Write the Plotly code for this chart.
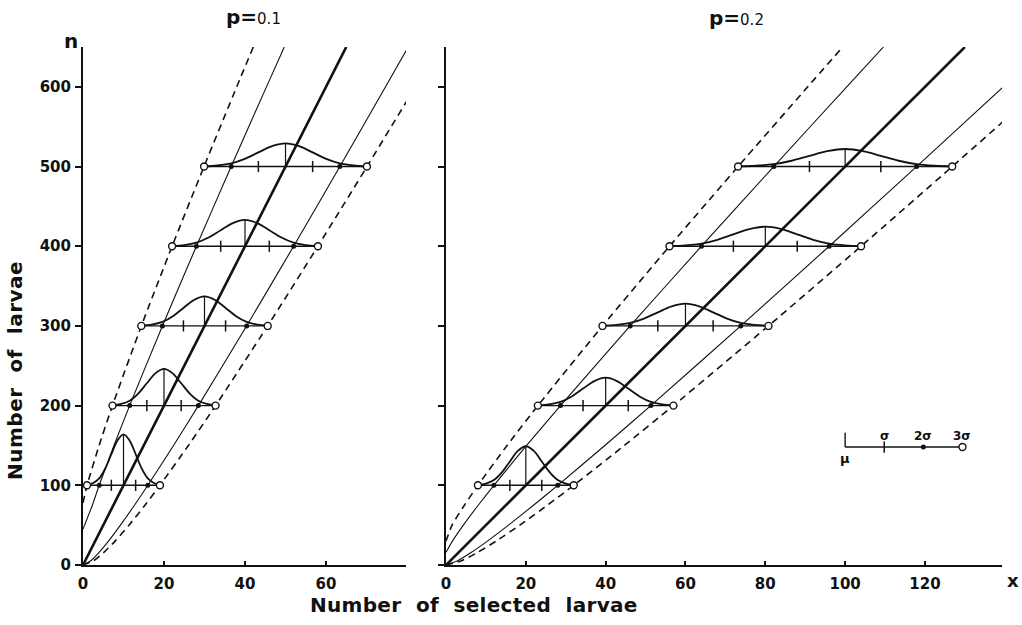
import plotly.graph_objects as go

# ---------------- data ----------------
# sample sizes at which the distributions are drawn
levels = [100, 200, 300, 400, 500]

# p = 0.1 : mean, standard deviation and drawn peak height (in n units)
p01_mean = [10, 20, 30, 40, 50]
p01_sigma = [3.0, 4.24, 5.2, 6.0, 6.7]
p01_peak = [64, 46, 37, 33, 29]

# p = 0.2
p02_mean = [20, 40, 60, 80, 100]
p02_sigma = [4.0, 5.66, 6.93, 8.0, 8.94]
p02_peak = [49, 35, 28, 24.5, 22]

# bell profile: offsets in sigma units and relative heights
bell_k = [-3, -2.5, -2, -1.5, -1, -0.5, 0, 0.5, 1, 1.5, 2, 2.5, 3]
bell_rel = [0.01, 0.045, 0.135, 0.33, 0.61, 0.88, 1.0, 0.88, 0.61, 0.33, 0.135, 0.045, 0.01]

# guide curves, p = 0.1 (n on the vertical axis, x on the horizontal)
p01_n = [0, 5, 15, 30, 50, 75, 100, 150, 200, 300, 400, 500, 600, 650]
p01_hi2 = [0, 1.84, 3.82, 6.29, 9.24, 12.70, 16.0, 22.35, 28.49, 40.39, 52.0, 63.42, 74.70, 80.30]
p01_hi3 = [0, 2.51, 4.99, 7.93, 11.36, 15.29, 19.0, 26.02, 32.73, 45.59, 58.0, 70.12, 82.05, 87.95]
p01_lo2_n = [45, 75, 100, 150, 200, 300, 400, 500, 600, 650]
p01_lo2 = [0, 2.3, 4.0, 7.65, 11.51, 19.61, 28.0, 36.58, 45.30, 49.70]
p01_lo3_n = [78, 100, 150, 200, 300, 400, 500, 600, 650]
p01_lo3 = [0, 1.0, 3.98, 7.27, 14.41, 22.0, 29.88, 37.95, 42.05]
p01_mid_n = [0, 650]
p01_mid = [0, 65]

# guide curves, p = 0.2
p02_n = [0, 5, 15, 30, 50, 75, 100, 150, 200, 300, 400, 500, 600, 650]
p02_hi2 = [0, 2.79, 6.10, 10.38, 15.66, 21.93, 28.0, 39.80, 51.31, 73.86, 96.0, 117.89, 139.60, 150.40]
p02_hi3 = [0, 3.68, 7.65, 12.57, 18.49, 25.39, 32.0, 44.70, 56.97, 80.78, 104.0, 126.83, 149.39, 160.60]
p02_lo2_n = [16, 30, 50, 75, 100, 150, 200, 300, 400, 500, 600, 650]
p02_lo2 = [0, 1.62, 4.34, 8.07, 12.0, 20.20, 28.69, 46.14, 64.0, 82.11, 100.40, 109.60]
p02_lo3_n = [30, 50, 75, 100, 150, 200, 300, 400, 500, 600, 650]
p02_lo3 = [0, 1.51, 4.61, 8.0, 15.30, 23.03, 39.22, 56.0, 73.17, 90.61, 99.40]
p02_mid_n = [0, 650]
p02_mid = [0, 130]

# axis ticks
y_ticks = [0, 100, 200, 300, 400, 500, 600]
x1_ticks = [0, 20, 40, 60]
x2_ticks = [0, 20, 40, 60, 80, 100, 120]

# key (in sigma steps) placed in the p = 0.2 panel
key_steps = [0, 1, 2, 3]
key_labels = ["μ", "σ", "2σ", "3σ"]
key_origin = (100.0, 148.0)
key_step = 9.8

# ---------------- figure ----------------
INK = "#111111"
FONT = "DejaVu Sans"
fig = go.Figure()


def add_line(xs, ys, ax, width, dash="solid"):
    xa, ya = ("x", "y") if ax == 1 else ("x2", "y2")
    fig.add_trace(go.Scatter(
        x=xs, y=ys, xaxis=xa, yaxis=ya, mode="lines",
        line=dict(color=INK, width=width, dash=dash, shape="spline", smoothing=0.6),
        hoverinfo="skip", showlegend=False))


def add_panel(ax, n, hi2, hi3, lo2_n, lo2, lo3_n, lo3, mid_n, mid, means, sigmas, peaks):
    xa, ya = ("x", "y") if ax == 1 else ("x2", "y2")
    add_line(hi3, n, ax, 1.6, "7px,5px")
    add_line(lo3, lo3_n, ax, 1.6, "7px,5px")
    add_line(hi2, n, ax, 1.1)
    add_line(lo2, lo2_n, ax, 1.1)
    add_line(mid, mid_n, ax, 2.6)
    for lv, m, s, h in zip(levels, means, sigmas, peaks):
        # baseline from -3 sigma to +3 sigma
        fig.add_trace(go.Scatter(
            x=[m - 3 * s, m + 3 * s], y=[lv, lv], xaxis=xa, yaxis=ya, mode="lines",
            line=dict(color=INK, width=1.4), hoverinfo="skip", showlegend=False))
        # bell curve
        fig.add_trace(go.Scatter(
            x=[m + k * s for k in bell_k], y=[lv + r * h for r in bell_rel],
            xaxis=xa, yaxis=ya, mode="lines",
            line=dict(color=INK, width=1.8, shape="spline", smoothing=1.0),
            hoverinfo="skip", showlegend=False))
        # mean ordinate
        fig.add_trace(go.Scatter(
            x=[m, m], y=[lv, lv + h], xaxis=xa, yaxis=ya, mode="lines",
            line=dict(color=INK, width=1.2), hoverinfo="skip", showlegend=False))
        # sigma ticks
        fig.add_trace(go.Scatter(
            x=[m - s, m + s], y=[lv, lv], xaxis=xa, yaxis=ya, mode="markers",
            marker=dict(symbol="line-ns", size=8, line=dict(color=INK, width=1.5)),
            hoverinfo="skip", showlegend=False))
        # 2 sigma dots
        fig.add_trace(go.Scatter(
            x=[m - 2 * s, m + 2 * s], y=[lv, lv], xaxis=xa, yaxis=ya, mode="markers",
            marker=dict(symbol="circle", size=5, color=INK),
            hoverinfo="skip", showlegend=False))
        # 3 sigma open circles
        fig.add_trace(go.Scatter(
            x=[m - 3 * s, m + 3 * s], y=[lv, lv], xaxis=xa, yaxis=ya, mode="markers",
            marker=dict(symbol="circle", size=7, color="white", line=dict(color=INK, width=1.4)),
            hoverinfo="skip", showlegend=False))


add_panel(1, p01_n, p01_hi2, p01_hi3, p01_lo2_n, p01_lo2, p01_lo3_n, p01_lo3,
          p01_mid_n, p01_mid, p01_mean, p01_sigma, p01_peak)
add_panel(2, p02_n, p02_hi2, p02_hi3, p02_lo2_n, p02_lo2, p02_lo3_n, p02_lo3,
          p02_mid_n, p02_mid, p02_mean, p02_sigma, p02_peak)

# key: mu, sigma, 2 sigma, 3 sigma
kx = [key_origin[0] + st * key_step for st in key_steps]
ky = key_origin[1]
fig.add_trace(go.Scatter(x=[kx[0], kx[-1]], y=[ky, ky], xaxis="x2", yaxis="y2", mode="lines",
                         line=dict(color=INK, width=1.4), hoverinfo="skip", showlegend=False))
fig.add_trace(go.Scatter(x=[kx[0], kx[0]], y=[ky, ky + 18], xaxis="x2", yaxis="y2", mode="lines",
                         line=dict(color=INK, width=1.4), hoverinfo="skip", showlegend=False))
fig.add_trace(go.Scatter(x=[kx[1]], y=[ky], xaxis="x2", yaxis="y2", mode="markers",
                         marker=dict(symbol="line-ns", size=8, line=dict(color=INK, width=1.5)),
                         hoverinfo="skip", showlegend=False))
fig.add_trace(go.Scatter(x=[kx[2]], y=[ky], xaxis="x2", yaxis="y2", mode="markers",
                         marker=dict(symbol="circle", size=5, color=INK),
                         hoverinfo="skip", showlegend=False))
fig.add_trace(go.Scatter(x=[kx[3]], y=[ky], xaxis="x2", yaxis="y2", mode="markers",
                         marker=dict(symbol="circle", size=7, color="white", line=dict(color=INK, width=1.4)),
                         hoverinfo="skip", showlegend=False))

annotations = []
for i, (x, lab) in enumerate(zip(kx, key_labels)):
    if i == 0:
        annotations.append(dict(x=x, y=ky, xref="x2", yref="y2", text="<b>" + lab + "</b>", showarrow=False,
                                yanchor="top", yshift=-2, font=dict(family=FONT, size=13, color=INK)))
    else:
        annotations.append(dict(x=x, y=ky, xref="x2", yref="y2", text="<b>" + lab + "</b>", showarrow=False,
                                yanchor="bottom", yshift=2, font=dict(family=FONT, size=12, color=INK)))

W, H = 1022, 625


def px(xp, yp):
    return xp / W, 1 - yp / H


for txt, (xp, yp), size in [
    ("<b>p=</b><span style='font-size:15px'>0.1</span>", (253, 17), 20),
    ("<b>p=</b><span style='font-size:15px'>0.2</span>", (736, 18), 20),
    ("<b>n</b>", (71, 41), 20),
    ("<b>x</b>", (1013, 580), 18),
    ("<b><span style='letter-spacing:0.3px'>Number  of  selected  larvae</span></b>", (474, 605), 20),
]:
    ax_, ay_ = px(xp, yp)
    annotations.append(dict(x=ax_, y=ay_, xref="paper", yref="paper", text=txt, showarrow=False,
                            xanchor="center", yanchor="middle", font=dict(family=FONT, size=size, color=INK)))

ax_, ay_ = px(15, 371)
annotations.append(dict(x=ax_, y=ay_, xref="paper", yref="paper",
                        text="<b><span style='letter-spacing:0.5px'>Number  of  larvae</span></b>",
                        textangle=-90, showarrow=False, xanchor="center", yanchor="middle",
                        font=dict(family=FONT, size=20, color=INK)))

y_dom = [(625 - 565) / 625, (625 - 47) / 625]
axis_common = dict(showline=True, linewidth=2, linecolor=INK, showgrid=False, zeroline=False,
                   automargin=False, tickcolor=INK, tickwidth=2,
                   tickfont=dict(family=FONT, size=15, color=INK, weight="bold"))

fig.update_layout(
    width=W, height=H, margin=dict(l=0, r=0, t=0, b=0, autoexpand=False),
    paper_bgcolor="white", plot_bgcolor="white", showlegend=False,
    xaxis=dict(domain=[83 / W, 406 / W], range=[0, 79.75], anchor="y", tickvals=x1_ticks,
               ticks="inside", ticklen=4, ticklabelstandoff=4, **axis_common),
    yaxis=dict(domain=y_dom, range=[0, 650], anchor="x", tickvals=y_ticks,
               ticks="outside", ticklen=6, ticklabelstandoff=1, **axis_common),
    xaxis2=dict(domain=[446 / W, 1002 / W], range=[0, 139.3], anchor="y2", tickvals=x2_ticks,
                ticks="inside", ticklen=4, ticklabelstandoff=4, **axis_common),
    yaxis2=dict(domain=y_dom, range=[0, 650], anchor="x2", tickvals=y_ticks, showticklabels=False,
                ticks="outside", ticklen=6, **axis_common),
    annotations=annotations,
)

fig.write_html("out.html")
